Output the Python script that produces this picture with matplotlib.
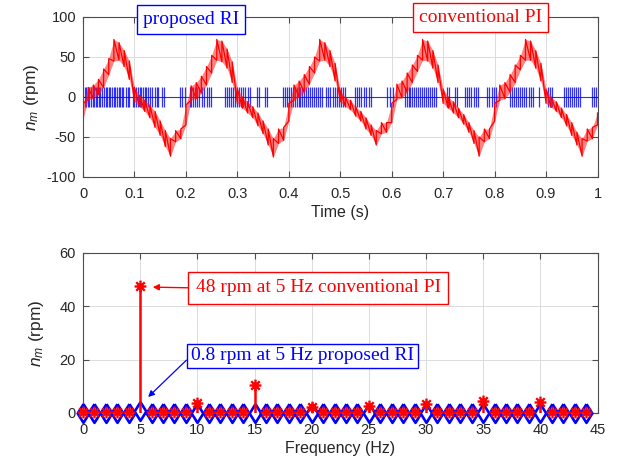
import numpy as np
import matplotlib
matplotlib.use("Agg")
import matplotlib.pyplot as plt
from matplotlib.path import Path

# ---------------- data ----------------
# time-domain: red (conventional PI) lower / upper envelope every 0.01 s
t_red = [round(0.01 * i, 2) for i in range(101)]
red_lo = [-28, -3, -2, 3, 12, 28, 45, 46, 38, 22, -6, -12, -18, -26, -38, -48, -62, -74, -56, -52,
          -35, -4, -2, 5, 15, 30, 46, 44, 36, 18, -8, -14, -20, -26, -36, -46, -60, -75, -58, -54,
          -30, -4, 0, 6, 16, 30, 45, 46, 38, 20, -6, -12, -16, -24, -30, -40, -48, -60, -46, -44,
          -32, -3, -1, 6, 18, 32, 46, 45, 36, 18, -8, -14, -20, -26, -34, -44, -58, -74, -56, -52,
          -30, -4, -2, 6, 18, 34, 46, 46, 36, 20, -8, -13, -18, -26, -36, -48, -60, -74, -55, -52,
          -35]
red_hi = [-8, 12, 15, 22, 35, 48, 72, 68, 58, 45, 12, 2, -4, -10, -18, -30, -42, -52, -42, -40,
          -10, 14, 18, 26, 38, 52, 72, 70, 60, 44, 10, 0, -6, -12, -20, -30, -40, -52, -40, -38,
          -8, 15, 20, 28, 38, 50, 72, 68, 58, 42, 8, 0, -4, -12, -18, -26, -35, -42, -32, -32,
          -8, 16, 20, 30, 40, 52, 72, 70, 58, 40, 10, 0, -6, -14, -22, -32, -42, -50, -40, -40,
          -8, 15, 18, 28, 40, 52, 72, 70, 58, 42, 10, 0, -6, -14, -22, -32, -44, -52, -40, -38,
          -20]

# time-domain: blue (proposed RI) switching spikes (times in s), amplitude +/-12 rpm
blue_spikes = [
    0.003, 0.006, 0.009, 0.012, 0.015, 0.019, 0.022, 0.025, 0.028, 0.031, 0.034, 0.037, 0.041,
    0.044, 0.047, 0.050, 0.053, 0.056, 0.060, 0.063, 0.066, 0.069, 0.072, 0.075, 0.078,
    0.084, 0.087, 0.090,
    0.097, 0.100, 0.103, 0.106, 0.110, 0.113, 0.116, 0.120, 0.123, 0.127, 0.131, 0.135, 0.139,
    0.143, 0.146,
    0.153, 0.158,
    0.188, 0.193, 0.199,
    0.207, 0.210, 0.214, 0.218, 0.222, 0.226, 0.231, 0.236, 0.241, 0.245, 0.249,
    0.276, 0.279, 0.283, 0.287, 0.291, 0.295, 0.299, 0.303, 0.307, 0.311, 0.314,
    0.321, 0.324, 0.338, 0.342, 0.354, 0.358,
    0.389, 0.393, 0.397, 0.401, 0.405,
    0.409, 0.412, 0.415, 0.419, 0.422, 0.426, 0.430, 0.433, 0.437, 0.441, 0.445, 0.449, 0.453,
    0.457, 0.461, 0.465,
    0.473, 0.477, 0.481, 0.485, 0.489, 0.493, 0.497,
    0.501, 0.505, 0.510,
    0.529, 0.533, 0.537, 0.541, 0.546, 0.551, 0.556, 0.560,
    0.591, 0.596, 0.602,
    0.626, 0.629, 0.633, 0.636, 0.640, 0.643, 0.647, 0.651, 0.655, 0.659, 0.663, 0.667, 0.671,
    0.675, 0.679, 0.683, 0.687,
    0.707, 0.712, 0.723, 0.726,
    0.743, 0.747, 0.751, 0.755, 0.759, 0.763, 0.767,
    0.785, 0.789, 0.794, 0.798, 0.802,
    0.830, 0.834, 0.838, 0.842, 0.846, 0.850, 0.854, 0.858, 0.862, 0.866, 0.870, 0.874,
    0.887,
    0.904, 0.908, 0.912,
    0.934, 0.938, 0.942, 0.946, 0.950, 0.954, 0.958, 0.962, 0.966,
    0.989, 0.993, 0.997]
blue_amp = 12

# frequency-domain spectra (0..44 Hz)
freq = list(range(45))
red_spec = [0.2, 0.2, 0.2, 0.2, 0.2, 47.6, 0.2, 0.2, 0.2, 0.2,
            3.8, 0.2, 0.2, 0.2, 0.2, 10.4, 0.2, 0.2, 0.2, 0.2,
            2.2, 0.2, 0.2, 0.2, 0.2, 2.6, 0.2, 0.2, 0.2, 0.2,
            3.3, 0.2, 0.2, 0.2, 0.2, 4.5, 0.2, 0.2, 0.2, 0.2,
            4.0, 0.2, 0.2, 0.2, 0.2]
blue_spec = [0.0] * 5 + [0.8] + [0.0] * 39

time_ticks = [0, 0.1, 0.2, 0.3, 0.4, 0.5, 0.6, 0.7, 0.8, 0.9, 1]
time_ticklabels = ["0", "0.1", "0.2", "0.3", "0.4", "0.5", "0.6", "0.7", "0.8", "0.9", "1"]
freq_ticks = [0, 5, 10, 15, 20, 25, 30, 35, 40, 45]

# ---------------- style ----------------
plt.rcParams['font.family'] = ['Liberation Sans', 'DejaVu Sans']
plt.rcParams['mathtext.fontset'] = 'custom'
plt.rcParams['mathtext.it'] = 'Liberation Sans:italic'
plt.rcParams['mathtext.rm'] = 'Liberation Sans'
plt.rcParams['axes.unicode_minus'] = False
SERIF = ['Liberation Serif', 'DejaVu Serif']
AXC = '#4d4d4d'
TXT = '#262626'

fig = plt.figure(figsize=(6.23, 4.72), dpi=100)
ax1 = fig.add_axes([83 / 623, 1 - 177 / 472, 514.5 / 623, 160 / 472])
ax2 = fig.add_axes([83 / 623, 1 - 413 / 472, 514.5 / 623, 160 / 472])


def style(ax):
    for s in ax.spines.values():
        s.set_color(AXC)
        s.set_linewidth(0.8)
    ax.tick_params(direction='in', length=4, width=0.8, color=AXC, labelcolor=TXT,
                   labelsize=10.5, top=True, right=True)
    ax.tick_params(axis='x', pad=7)
    ax.tick_params(axis='y', pad=5)
    ax.grid(True, color='#dcdcdc', linewidth=0.7)
    ax.set_axisbelow(True)


# ---------------- top: time domain ----------------
style(ax1)
ax1.plot([0, 1], [0, 0], color='blue', lw=0.8, zorder=2, alpha=0.8)
ax1.vlines(blue_spikes, -blue_amp, blue_amp, color='blue', lw=0.9, zorder=2, alpha=0.8)

t_arr = np.array(t_red)
lo = np.array(red_lo, dtype=float)
hi = np.array(red_hi, dtype=float)
ax1.fill_between(t_arr, lo, hi, color='#ff2020', alpha=0.55, linewidth=0, zorder=3)
zt = np.repeat(t_arr, 2)
zv = np.column_stack([lo, hi]).ravel()
ax1.plot(zt, zv, color='red', lw=0.9, zorder=4)

ax1.set_xlim(0, 1)
ax1.set_ylim(-100, 100)
ax1.set_xticks(time_ticks)
ax1.set_xticklabels(time_ticklabels)
ax1.set_yticks([-100, -50, 0, 50, 100])
ax1.set_xlabel('Time (s)', fontsize=11.5, color=TXT, labelpad=3)
ax1.set_ylabel('$n_m$ (rpm)', fontsize=12.5, color=TXT, labelpad=4)

ax1.text(0.21, 0.985, 'proposed RI', transform=ax1.transAxes, ha='center', va='center',
         fontsize=14, color='blue', family=SERIF, zorder=10,
         bbox=dict(boxstyle='square,pad=0.32', fc='white', ec='blue', lw=1))
ax1.text(0.773, 0.997, 'conventional PI', transform=ax1.transAxes, ha='center', va='center',
         fontsize=14, color='red', family=SERIF, zorder=10,
         bbox=dict(boxstyle='square,pad=0.32', fc='white', ec='red', lw=1))

# ---------------- bottom: spectrum ----------------
style(ax2)
diamond = [(0, 1), (0.62, 0), (0, -1), (-0.62, 0), (0, 1)]
ast_path = Path([(-1, 0), (1, 0), (0, -1), (0, 1), (-0.72, -0.72), (0.72, 0.72),
                 (-0.72, 0.72), (0.72, -0.72)],
                [Path.MOVETO, Path.LINETO] * 4)

ax2.vlines(freq, 0, blue_spec, color='blue', lw=1.5, zorder=3)
ax2.plot(freq, blue_spec, ls='none', marker=diamond, markersize=13.5, mfc='white',
         mec='blue', mew=1.9, zorder=4, clip_on=False)
ax2.vlines(freq, 0, red_spec, color='red', lw=1.8, zorder=5)
ax2.plot(freq, red_spec, ls='none', marker=ast_path, markersize=8.5, mfc='none',
         mec='red', mew=1.7, zorder=6, clip_on=False)

ax2.set_xlim(0, 45)
ax2.set_ylim(0, 60)
ax2.set_xticks(freq_ticks)
ax2.set_yticks([0, 20, 40, 60])
ax2.set_xlabel('Frequency (Hz)', fontsize=11.5, color=TXT, labelpad=3)
ax2.set_ylabel('$n_m$ (rpm)', fontsize=12.5, color=TXT, labelpad=10)

ax2.annotate('48 rpm at 5 Hz conventional PI', xy=(6.1, 47.2), xytext=(20.58, 46.9),
             ha='center', va='center', fontsize=14, color='red', family=SERIF, zorder=10,
             bbox=dict(boxstyle='square,pad=0.38', fc='white', ec='red', lw=1),
             arrowprops=dict(arrowstyle='-|>', color='red', lw=1, relpos=(0, 0.5),
                             shrinkA=0, shrinkB=0, mutation_scale=9))
ax2.annotate('0.8 rpm at 5 Hz proposed RI', xy=(5.7, 6.0), xytext=(19.18, 21.4),
             ha='center', va='center', fontsize=14, color='blue', family=SERIF, zorder=10,
             bbox=dict(boxstyle='square,pad=0.2', fc='white', ec='blue', lw=1),
             arrowprops=dict(arrowstyle='-|>', color='blue', lw=0.9, relpos=(0, 0.5),
                             shrinkA=0, shrinkB=0, mutation_scale=9))

fig.savefig('out.png', dpi=100)
